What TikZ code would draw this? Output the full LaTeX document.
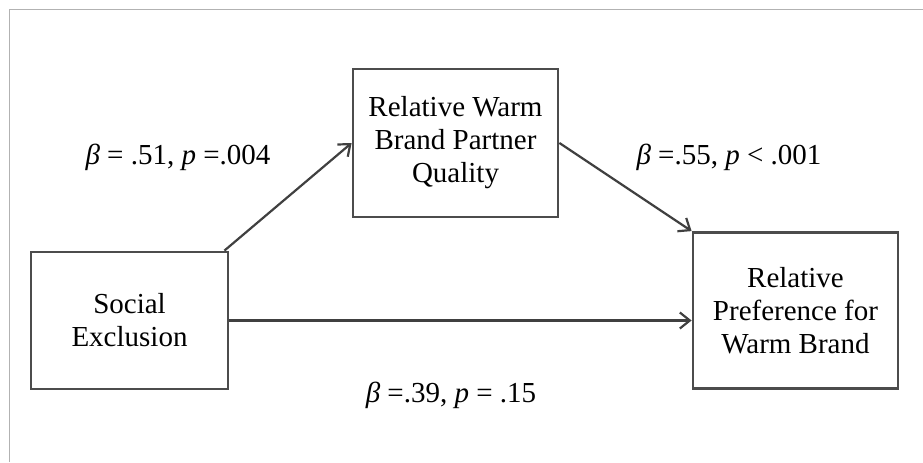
\documentclass[tikz,border=0pt]{standalone}
\usepackage{fontspec}
\setmainfont{Liberation Serif}
\usetikzlibrary{
    arrows.meta,
    positioning
}
\tikzset{%
    >={Straight Barb[length=5pt,width=8pt]},
    % Specifications for style of nodes:
    base/.style = {
        rectangle, draw=black!70, line width=1.4pt,
        text centered, align=center, fill=white,
        font=\fontsize{14.5}{16.5}\selectfont
    },
    cause/.style = {base, minimum width=98.5pt, minimum height=68.5pt},
    mediator/.style = {base, minimum width=102.5pt, minimum height=74pt},
    outcome/.style = {base, minimum width=102.5pt, minimum height=78pt},
    coef/.style = {font=\fontsize{14.5}{16.5}\selectfont},
    link/.style = {->, draw=black!75, line width=1.1pt},
    frame/.style = {draw=black!30, line width=0.6pt}
}

\begin{document}
\begin{tikzpicture}[x=0.5pt, y=-0.5pt, node distance=163pt]
\useasboundingbox (0,0) rectangle (923,462);
% outer frame
\draw[frame] (9.5,462) -- (9.5,9.5) -- (923,9.5);
% Specification of nodes (position, etc.)
\node (excl)    [cause] at (129.5,320.5) {Social\\Exclusion};
\node (partner) [mediator, right of=excl, yshift=88.75pt] {Relative Warm\\Brand Partner\\Quality};
\node (pref)    [outcome, right of=partner, xshift=7pt, yshift=-83.75pt] {Relative\\Preference for\\Warm Brand};
\node (apath)   [coef] at (178,157) {{\itshape β} = .51, {\itshape p} =.004};
\node (bpath)   [coef] at (729,157) {{\itshape β} =.55, {\itshape p} < .001};
\node (cpath)   [coef] at (451,395) {{\itshape β} =.39, {\itshape p} = .15};
% Specification of paths
\draw[link] ([xshift=-2.5pt]excl.north east) -- (partner.west);
\draw[link] (partner.east) -- (pref.north west);
\draw[link] (excl.east) -- (excl.east -| pref.west);
\end{tikzpicture}
\end{document}
